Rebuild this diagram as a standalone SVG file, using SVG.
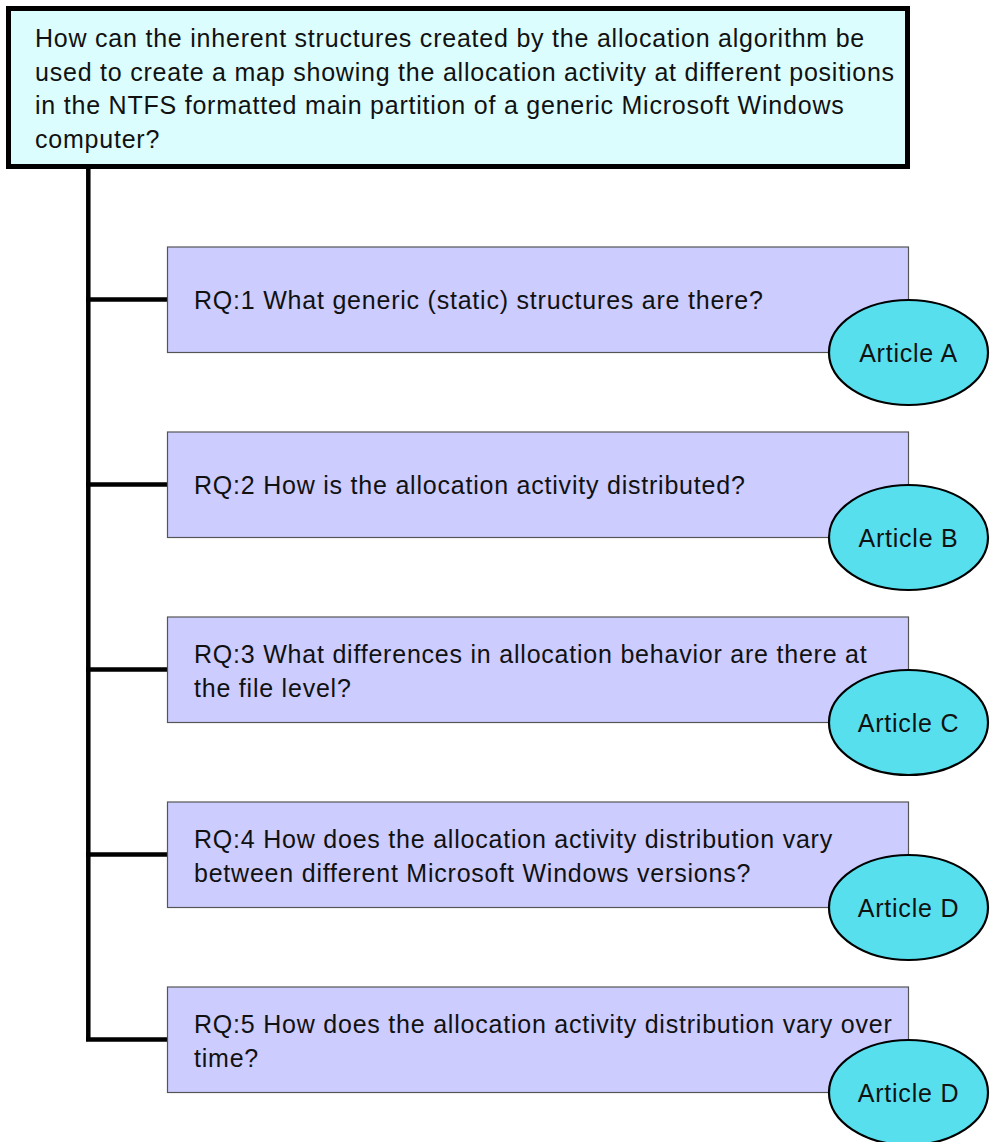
<svg xmlns="http://www.w3.org/2000/svg" width="992" height="1142" viewBox="0 0 992 1142">
<style>
text{font-family:"Liberation Sans",Arial,sans-serif;font-size:25px;letter-spacing:0.78px;fill:#111}
.main{fill:#dcfdfd;stroke:#000;stroke-width:5}
.rq{fill:#ccccff;stroke:#555;stroke-width:1.2}
.art{fill:#57dfee;stroke:#000;stroke-width:2.2}
.conn{stroke:#000;stroke-width:4.5;fill:none}
.c{text-anchor:middle}
</style>
<rect width="992" height="1142" fill="#fff"/>
<g id="connectors">
<path class="conn" d="M88.3 168V1039.5M86 299.5H167M86 484.5H167M86 669.5H167M86 854.5H167M86 1039.5H167"/>
</g>
<g id="main">
<rect class="main" x="8.5" y="8.5" width="899" height="158"/>
<text x="35" y="47">How can the inherent structures created by the allocation algorithm be</text>
<text x="35" y="80.5">used to create a map showing the allocation activity at different positions</text>
<text x="35" y="114">in the NTFS formatted main partition of a generic Microsoft Windows</text>
<text x="35" y="147.5">computer?</text>
</g>
<g id="rq1">
<rect class="rq" x="167.5" y="247" width="741" height="105.5"/>
<text x="194" y="309">RQ:1 What generic (static) structures are there?</text>
</g>
<g id="rq2">
<rect class="rq" x="167.5" y="432" width="741" height="105.5"/>
<text x="194" y="494">RQ:2 How is the allocation activity distributed?</text>
</g>
<g id="rq3">
<rect class="rq" x="167.5" y="617" width="741" height="105.5"/>
<text x="194" y="663">RQ:3 What differences in allocation behavior are there at</text>
<text x="194" y="697">the file level?</text>
</g>
<g id="rq4">
<rect class="rq" x="167.5" y="802" width="741" height="105.5"/>
<text x="194" y="848">RQ:4 How does the allocation activity distribution vary</text>
<text x="194" y="882">between different Microsoft Windows versions?</text>
</g>
<g id="rq5">
<rect class="rq" x="167.5" y="987" width="741" height="105.5"/>
<text x="194" y="1033">RQ:5 How does the allocation activity distribution vary over</text>
<text x="194" y="1067">time?</text>
</g>
<g id="articleA">
<ellipse class="art" cx="908.5" cy="352.5" rx="79.5" ry="52.5"/>
<text class="c" x="908.5" y="361.5">Article A</text>
</g>
<g id="articleB">
<ellipse class="art" cx="908.5" cy="537.5" rx="79.5" ry="52.5"/>
<text class="c" x="908.5" y="546.5">Article B</text>
</g>
<g id="articleC">
<ellipse class="art" cx="908.5" cy="722.5" rx="79.5" ry="52.5"/>
<text class="c" x="908.5" y="731.5">Article C</text>
</g>
<g id="articleD1">
<ellipse class="art" cx="908.5" cy="907.5" rx="79.5" ry="52.5"/>
<text class="c" x="908.5" y="916.5">Article D</text>
</g>
<g id="articleD2">
<ellipse class="art" cx="908.5" cy="1092.5" rx="79.5" ry="52.5"/>
<text class="c" x="908.5" y="1101.5">Article D</text>
</g>
</svg>
